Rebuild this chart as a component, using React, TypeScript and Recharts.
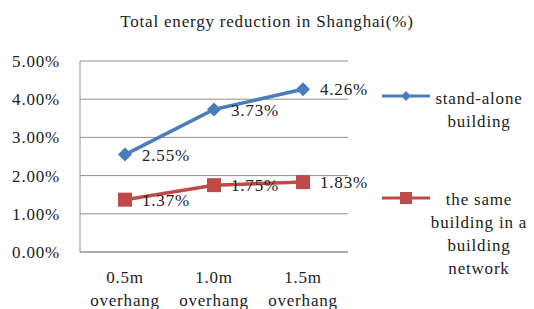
import { LineChart, Line, XAxis, YAxis, CartesianGrid, LabelList } from "recharts";

const categories = ["0.5m overhang", "1.0m overhang", "1.5m overhang"];
const standAlone = [2.55, 3.73, 4.26];
const network = [1.37, 1.75, 1.83];
const yTicks = [0, 1, 2, 3, 4, 5];

const BLUE = "#4A7EBB";
const RED = "#BE4B48";
const FONT = "Liberation Serif, DejaVu Serif, serif";
const FS = 17;
const LS = 0.8;

const data = categories.map((name, i) => ({
  name,
  standAlone: standAlone[i],
  network: network[i],
}));

const Diamond = (props: any) => {
  const { cx, cy } = props;
  if (cx == null || cy == null) return null;
  return (
    <path
      d={`M${cx},${cy - 7} L${cx + 7},${cy} L${cx},${cy + 7} L${cx - 7},${cy} Z`}
      fill={BLUE}
    />
  );
};

const Square = (props: any) => {
  const { cx, cy } = props;
  if (cx == null || cy == null) return null;
  return <rect x={cx - 7} y={cy - 7} width={14} height={14} fill={RED} />;
};

const XTick = (props: any) => {
  const { x, y, payload } = props;
  const [a, b] = String(payload.value).split(" ");
  return (
    <text x={x} y={y} textAnchor="middle" fill="#222" fontSize={FS} fontFamily={FONT} letterSpacing={LS}>
      <tspan x={x} dy={23}>{a}</tspan>
      <tspan x={x} dy={23}>{b}</tspan>
    </text>
  );
};

const ValueLabel = (props: any) => {
  const { x, y, value } = props;
  return (
    <text x={x + 17} y={y} dy={6} fill="#222" fontSize={FS} fontFamily={FONT} letterSpacing={LS}>
      {value.toFixed(2)}%
    </text>
  );
};

const LegendBox = () => (
  <div style={{ position: "absolute", left: 375, top: 80, width: 160, height: 200, fontFamily: FONT, fontSize: FS, letterSpacing: LS, color: "#222" }}>
    <svg width={160} height={200} style={{ position: "absolute", left: 0, top: 0 }}>
      <line x1={7} x2={55} y1={16} y2={16} stroke={BLUE} strokeWidth={3} />
      <path d="M31,11 L36,16 L31,21 L26,16 Z" fill={BLUE} />
      <line x1={7} x2={55} y1={118} y2={118} stroke={RED} strokeWidth={3} />
      <rect x={25} y={112} width={12} height={12} fill={RED} />
    </svg>
    <div style={{ position: "absolute", left: 49, top: 7, width: 110, textAlign: "center", lineHeight: "23px" }}>
      stand-alone<br />building
    </div>
    <div style={{ position: "absolute", left: 49, top: 108, width: 110, textAlign: "center", lineHeight: "23px" }}>
      the same<br />building in a<br />building<br />network
    </div>
  </div>
);

export default function App() {
  return (
    <div style={{ position: "fixed", left: 0, top: 0, width: 534, height: 309, background: "#fff", overflow: "hidden" }}>
      <div
        style={{
          position: "absolute",
          left: 0,
          top: 12,
          width: 534,
          textAlign: "center",
          fontFamily: FONT,
          fontSize: FS,
          letterSpacing: LS,
          color: "#222",
        }}
      >
        Total energy reduction in Shanghai(%)
      </div>
      <LineChart width={534} height={309} data={data} margin={{ top: 61, right: 186, bottom: 0, left: 0 }}>
        <CartesianGrid vertical={false} stroke="#8f8f8f" strokeWidth={1} />
        <XAxis
          dataKey="name"
          stroke="#8f8f8f"
          tickLine={false}
          tick={<XTick />}
          interval={0}
          height={57}
          padding={{ left: 45, right: 45 }}
        />
        <YAxis
          width={80}
          domain={[0, 5]}
          ticks={yTicks}
          stroke="#8f8f8f"
          tickLine={false}
          tickFormatter={(v: number) => `${v.toFixed(2)}%`}
          tick={{ fill: "#222", fontSize: FS, fontFamily: FONT, letterSpacing: LS }}
          tickMargin={14}
        />
        <Line
          dataKey="standAlone"
          stroke={BLUE}
          strokeWidth={3.5}
          dot={<Diamond />}
          activeDot={false}
          isAnimationActive={false}
        >
          <LabelList dataKey="standAlone" content={<ValueLabel />} />
        </Line>
        <Line
          dataKey="network"
          stroke={RED}
          strokeWidth={3.5}
          dot={<Square />}
          activeDot={false}
          isAnimationActive={false}
        >
          <LabelList dataKey="network" content={<ValueLabel />} />
        </Line>
      </LineChart>
      <LegendBox />
    </div>
  );
}
